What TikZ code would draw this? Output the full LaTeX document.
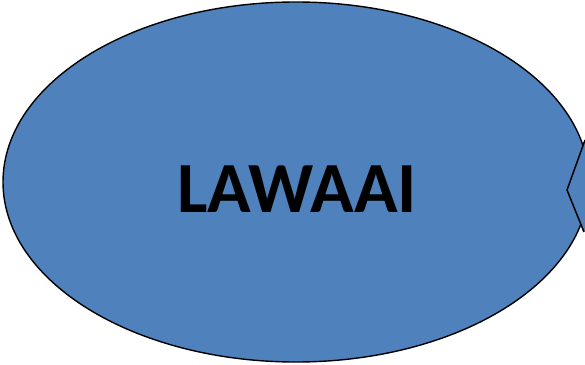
\documentclass[tikz,border=0pt]{standalone}
\usepackage{fontspec}
\setmainfont{Carlito}
\usepackage{tikz}
\usetikzlibrary{positioning}
\definecolor{lawaaiblue}{RGB}{79,129,189}

\tikzset{
  bubble/.style={fill=lawaaiblue, draw=black, line width=1.4pt},
  notchline/.style={draw=black, line width=1.5pt, line join=miter},
  title/.style={font=\fontsize{72}{78}\selectfont\bfseries, text=black}
}

\begin{document}
\begin{tikzpicture}[x=1pt, y=-1pt]
  \useasboundingbox (0,0) rectangle (585,364);
  \clip (0,0) rectangle (585,364);
  % the ellipse, partly cut off at the right
  \path[bubble] (296,182) ellipse [x radius=293, y radius=180];
  % the notch on the right side
  \fill[lawaaiblue] (584,142) -- (567,190) -- (583,231) -- (590,231) -- (590,142) -- cycle;
  \coordinate (ntop) at (585,140);
  \coordinate (ntip) at (567,190);
  \coordinate (nbot) at (584,232);
  \draw[notchline] (ntop) -- (ntip) -- (nbot);
  \node[title] (lawaai) at (297,189) {LAWAAI};
\end{tikzpicture}
\end{document}
